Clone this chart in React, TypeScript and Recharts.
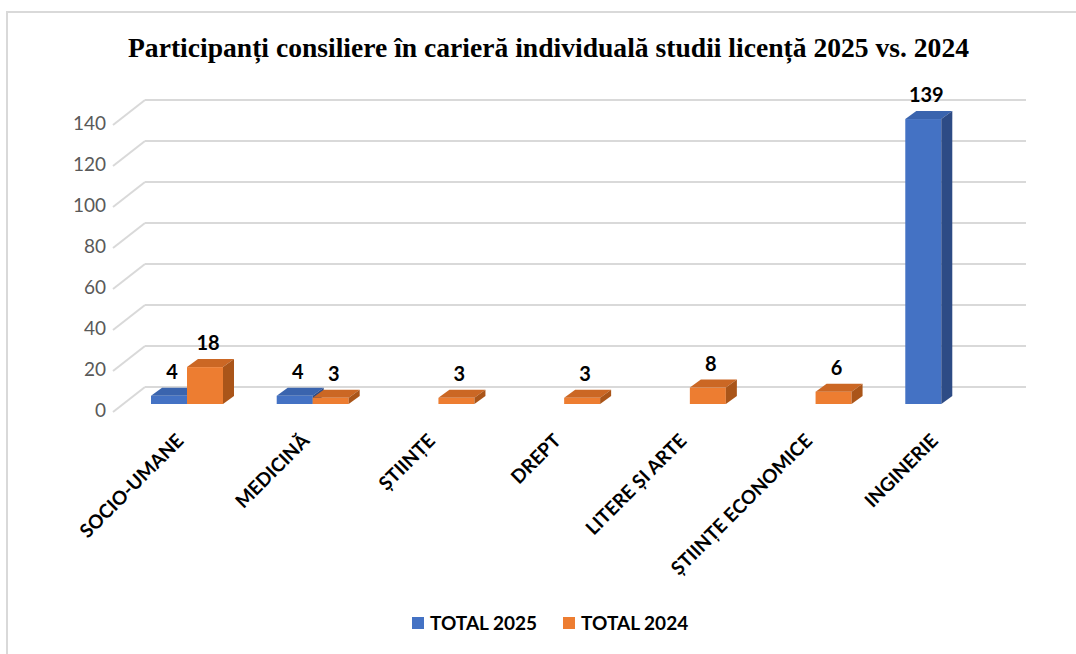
import React from 'react';
import { BarChart, Bar, XAxis, YAxis, CartesianGrid, LabelList } from 'recharts';

const categories = [
  'SOCIO-UMANE',
  'MEDICINĂ',
  'ȘTIINȚE',
  'DREPT',
  'LITERE ȘI ARTE',
  'ȘTIINȚE ECONOMICE',
  'INGINERIE',
];
const total2025 = [4, 4, null, null, null, null, 139];
const total2024 = [18, 3, 3, 3, 8, 6, null];
const yTicks = [0, 20, 40, 60, 80, 100, 120, 140];

const data = categories.map((name, i) => ({
  name,
  t2025: total2025[i],
  t2024: total2024[i],
}));

const C = {
  blue: '#4472C4',
  blueTop: '#3A64AE',
  blueSide: '#2D4B85',
  orange: '#ED7D31',
  orangeTop: '#CB6724',
  orangeSide: '#AA5519',
  grid: '#D9D9D9',
  axisText: '#595959',
};

const FONT = 'Lato, Calibri, sans-serif';
// bar depth (3d look)
const DX = 11;
const DY = 8;

const Bar3D = (top: string, side: string) => (props: any) => {
  const { x, y, width, height, fill } = props;
  if (height == null || width == null || height <= 0) return null;
  return (
    <g>
      <rect x={x} y={y} width={width} height={height} fill={fill} />
      <polygon
        points={`${x},${y} ${x + DX},${y - DY} ${x + width + DX},${y - DY} ${x + width},${y}`}
        fill={top}
      />
      <polygon
        points={`${x + width},${y} ${x + width + DX},${y - DY} ${x + width + DX},${y + height - DY} ${x + width},${y + height}`}
        fill={side}
      />
    </g>
  );
};

const ValueLabel = (props: any) => {
  const { x, y, width, value } = props;
  if (value == null) return null;
  return (
    <text
      x={x + width / 2 + 3}
      y={y - DY - 14}
      textAnchor="middle"
      dominantBaseline="middle"
      fontFamily={FONT}
      fontWeight={700}
      fontSize={20}
      fill="#000"
    >
      {value}
    </text>
  );
};

const gridLine = (p: any) => {
  const { x1, x2, y1 } = p;
  return (
    <g key={p.key}>
      <line x1={x1 - 11} y1={y1 + 8} x2={x1 + 21} y2={y1 - 17} stroke={C.grid} strokeWidth={2} />
      <line x1={x1 + 21} y1={y1 - 17} x2={x2 + 22} y2={y1 - 17} stroke={C.grid} strokeWidth={2} />
    </g>
  );
};

const YTick = (props: any) => {
  const { x, y, payload } = props;
  return (
    <text
      x={x - 10}
      y={y + 8}
      textAnchor="end"
      dominantBaseline="middle"
      fontFamily={FONT}
      fontSize={19}
      fill={C.axisText}
    >
      {payload.value}
    </text>
  );
};

const XTick = (props: any) => {
  const { x, y, payload } = props;
  const tx = x - 2;
  const ty = y + 30;
  return (
    <text
      x={tx}
      y={ty}
      textAnchor="end"
      transform={`rotate(-45 ${tx} ${ty})`}
      fontFamily={FONT}
      fontWeight={700}
      fontSize={19}
      fill="#000"
    >
      {payload.value}
    </text>
  );
};

const legendItems = [
  { label: 'TOTAL 2025', color: C.blue },
  { label: 'TOTAL 2024', color: C.orange },
];

export default function App() {
  return (
    <div style={{ position: 'fixed', left: 0, top: 0, width: 1076, height: 654, background: '#fff', overflow: 'hidden' }}>
      {/* chart frame, cut off at right and bottom like the screenshot */}
      <div
        style={{
          position: 'absolute',
          left: 6,
          top: 11,
          width: 1100,
          height: 700,
          borderLeft: '2px solid #D9D9D9',
          borderTop: '2px solid #D9D9D9',
        }}
      />
      <svg width={1076} height={80} style={{ position: 'absolute', left: 0, top: 0 }}>
        <text
          x={128}
          y={57}
          textLength={841}
          lengthAdjust="spacingAndGlyphs"
          fontFamily="'Liberation Serif', 'Times New Roman', serif"
          fontWeight={700}
          fontSize={28}
          fill="#000"
        >
          Participanți consiliere în carieră individuală studii licență 2025 vs. 2024
        </text>
      </svg>
      <div style={{ position: 'absolute', left: 0, top: 0 }}>
        <BarChart
          width={1076}
          height={654}
          data={data}
          margin={{ top: 117, right: 72, left: 64, bottom: 220 }}
          barCategoryGap="21.4%"
          barGap={0}
        >
          <CartesianGrid vertical={false} horizontal={gridLine} />
          <XAxis
            dataKey="name"
            axisLine={false}
            tickLine={false}
            height={30}
            interval={0}
            tick={<XTick />}
          />
          <YAxis
            width={60}
            domain={[0, 140]}
            ticks={yTicks}
            axisLine={false}
            tickLine={false}
            tick={<YTick />}
          />
          <Bar dataKey="t2025" fill={C.blue} barSize={36} shape={Bar3D(C.blueTop, C.blueSide)} isAnimationActive={false}>
            <LabelList dataKey="t2025" content={<ValueLabel />} />
          </Bar>
          <Bar dataKey="t2024" fill={C.orange} barSize={36} shape={Bar3D(C.orangeTop, C.orangeSide)} isAnimationActive={false}>
            <LabelList dataKey="t2024" content={<ValueLabel />} />
          </Bar>
        </BarChart>
      </div>
      <div
        style={{
          position: 'absolute',
          left: 412,
          top: 611,
          display: 'flex',
          alignItems: 'center',
          fontFamily: FONT,
          fontWeight: 700,
          fontSize: 19,
          color: '#000',
        }}
      >
        {legendItems.map((it, i) => (
          <div key={it.label} style={{ display: 'flex', alignItems: 'center', marginRight: i === 0 ? 26 : 0 }}>
            <span style={{ width: 12, height: 12, background: it.color, display: 'inline-block', marginRight: 6 }} />
            <span>{it.label}</span>
          </div>
        ))}
      </div>
    </div>
  );
}
